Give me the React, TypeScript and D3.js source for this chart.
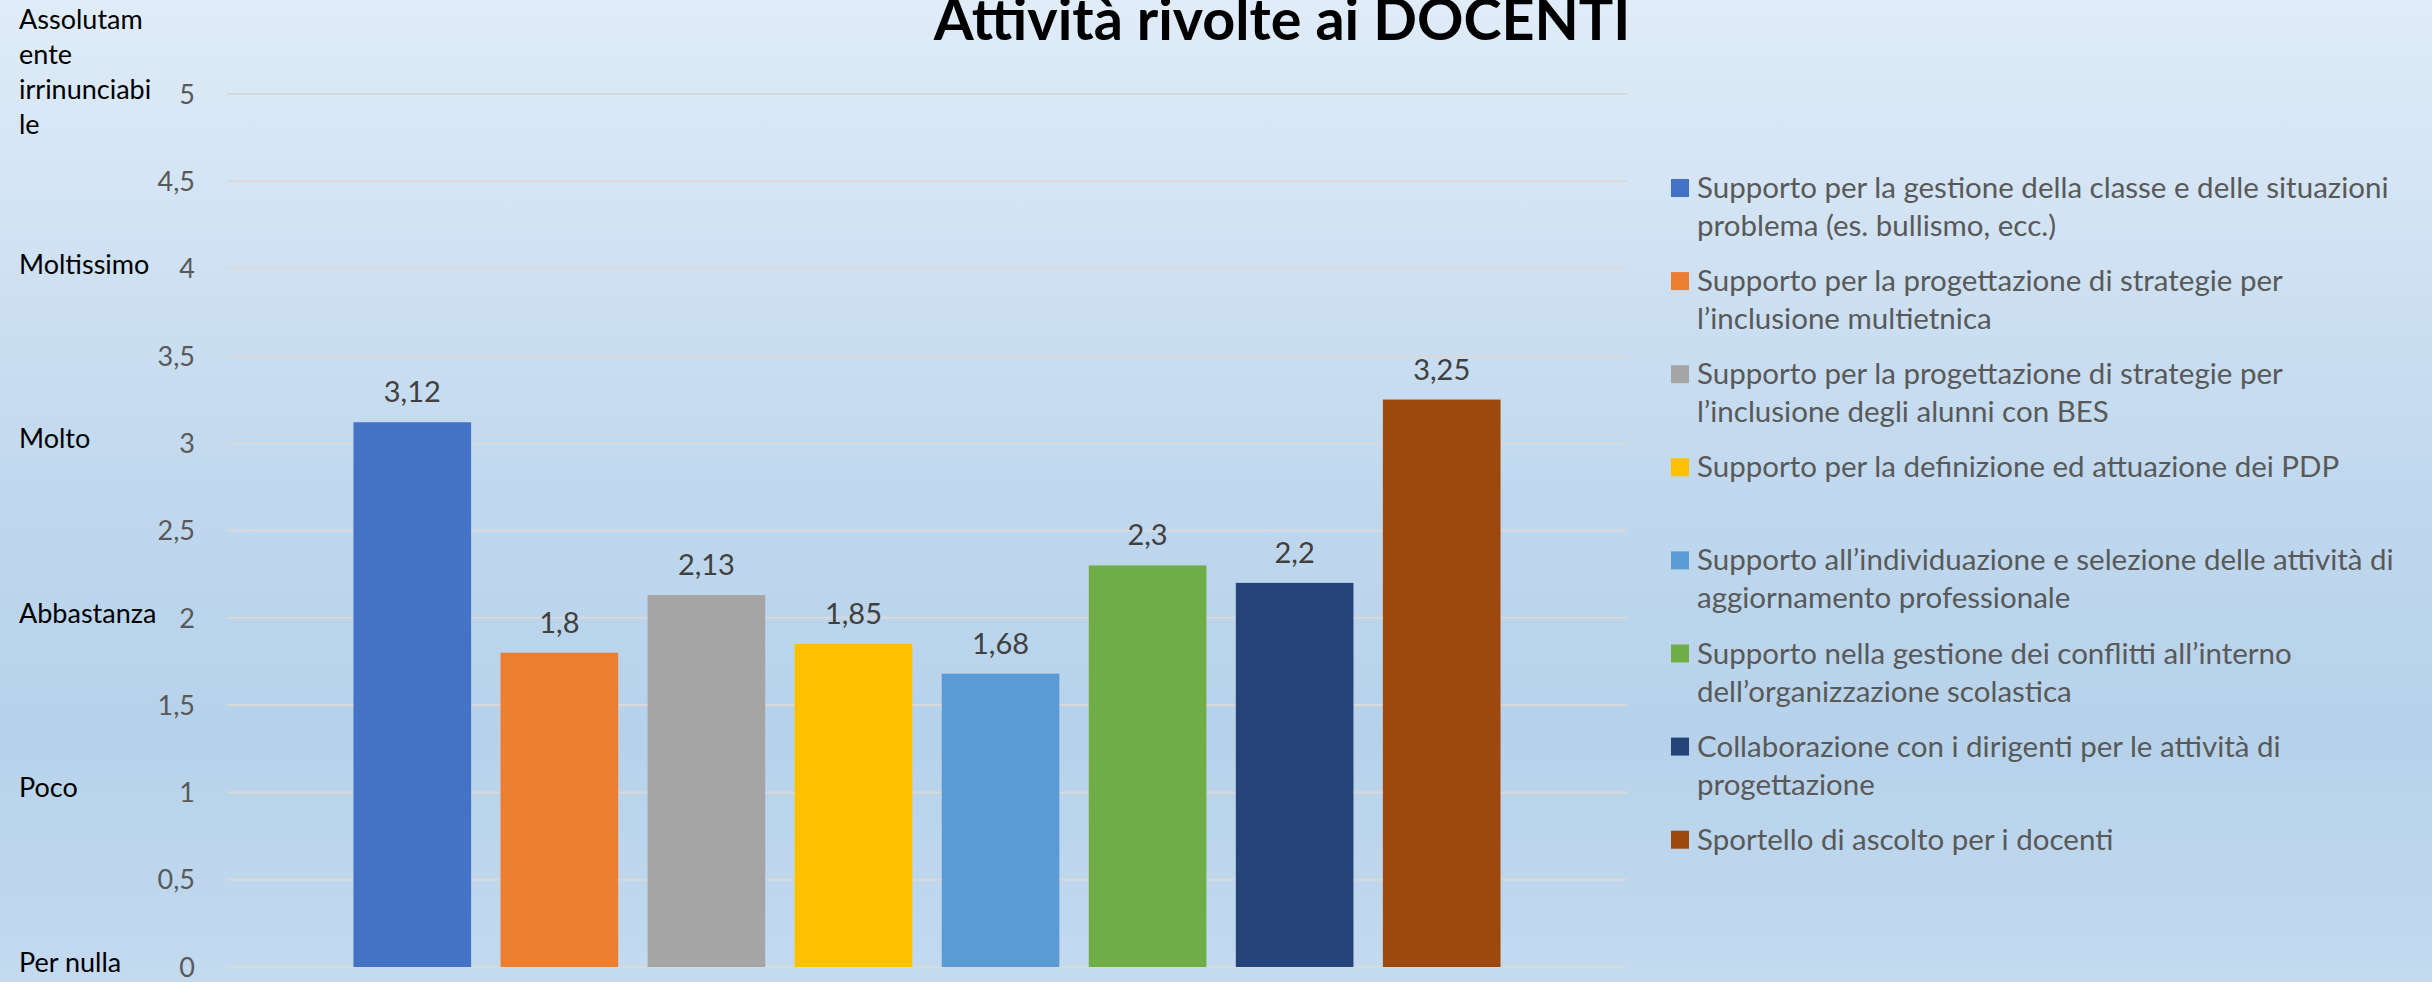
import React from "react";
import * as d3 from "d3";

const W = 2432;
const H = 982;

const seriesNames = [
  "Supporto per la gestione della classe e delle situazioni problema (es. bullismo, ecc.)",
  "Supporto per la progettazione di strategie per l’inclusione multietnica",
  "Supporto per la progettazione di strategie per l’inclusione degli alunni con BES",
  "Supporto per la definizione ed attuazione dei PDP",
  "Supporto all’individuazione e selezione delle attività di aggiornamento professionale",
  "Supporto nella gestione dei conflitti all’interno dell’organizzazione scolastica",
  "Collaborazione con i dirigenti per le attività di progettazione",
  "Sportello di ascolto per i docenti",
];

const legendLines: string[][] = [
  ["Supporto per la gestione della classe e delle situazioni", "problema (es. bullismo, ecc.)"],
  ["Supporto per la progettazione di strategie per", "l’inclusione multietnica"],
  ["Supporto per la progettazione di strategie per", "l’inclusione degli alunni con BES"],
  ["Supporto per la definizione ed attuazione dei PDP"],
  ["Supporto all’individuazione e selezione delle attività di", "aggiornamento professionale"],
  ["Supporto nella gestione dei conflitti all’interno", "dell’organizzazione scolastica"],
  ["Collaborazione con i dirigenti per le attività di", "progettazione"],
  ["Sportello di ascolto per i docenti"],
];

const values = [3.12, 1.8, 2.13, 1.85, 1.68, 2.3, 2.2, 3.25];

const colors = ["#4472C4", "#ED7D31", "#A5A5A5", "#FFC000", "#5B9BD5", "#70AD47", "#264478", "#9E480E"];

const yTicks = [0, 0.5, 1, 1.5, 2, 2.5, 3, 3.5, 4, 4.5, 5];

const scaleLabelValues = [5, 4, 3, 2, 1, 0];
const scaleLabelLines: string[][] = [
  ["Assolutam", "ente", "irrinunciabi", "le"],
  ["Moltissimo"],
  ["Molto"],
  ["Abbastanza"],
  ["Poco"],
  ["Per nulla"],
];

const title = "Attività rivolte ai DOCENTI";

const fmt = (v: number) => String(v).replace(".", ",");

export default function App() {
  const plotLeft = 227;
  const plotRight = 1627;
  const y = d3.scaleLinear().domain([0, 5]).range([967, 94]);
  const x = d3
    .scaleBand<number>()
    .domain(values.map((_, i) => i))
    .range([plotLeft, plotRight])
    .paddingInner(0.2)
    .paddingOuter(0.86);

  const font = "Lato, Carlito, Calibri, 'Open Sans', sans-serif";
  const legendTop = 188;
  const legendStep = 93.1;

  return (
    <svg
      width={W}
      height={H}
      viewBox={`0 0 ${W} ${H}`}
      style={{ position: "fixed", left: 0, top: 0, display: "block" }}
      fontFamily={font}
    >
      <defs>
        <linearGradient id="bg" x1="0" y1="0" x2="0" y2="1">
          <stop offset="0" stopColor="#e0ecf8" />
          <stop offset="0.5" stopColor="#c0d8ee" />
          <stop offset="0.75" stopColor="#b6d2ea" />
          <stop offset="1" stopColor="#c3daef" />
        </linearGradient>
      </defs>
      <rect x={0} y={0} width={W} height={H} fill="url(#bg)" />

      {/* title */}
      <text x={1282} y={40} textAnchor="middle" fontSize={57.5} fontWeight="bold" fill="#000">
        {title}
      </text>

      {/* gridlines */}
      {yTicks.map((t) => (
        <line key={`g${t}`} x1={plotLeft} x2={plotRight} y1={y(t)} y2={y(t)} stroke="#d9d9d9" strokeWidth={2} />
      ))}

      {/* y tick labels */}
      {yTicks.map((t) => (
        <text key={`t${t}`} x={195} y={y(t)} dy="0.36em" textAnchor="end" fontSize={27} fill="#595959">
          {fmt(t)}
        </text>
      ))}

      {/* qualitative scale labels */}
      {scaleLabelValues.map((v, i) => {
        const lines = scaleLabelLines[i];
        const anchorLine = lines.length > 1 ? 2 : 0;
        return (
          <text key={`s${i}`} x={19} fontSize={27} fill="#000">
            {lines.map((l, j) => (
              <tspan key={j} x={19} y={y(v) + 5 + (j - anchorLine) * 35}>
                {l}
              </tspan>
            ))}
          </text>
        );
      })}

      {/* bars */}
      {values.map((v, i) => (
        <rect
          key={`b${i}`}
          x={x(i)}
          y={y(v)}
          width={x.bandwidth()}
          height={y(0) - y(v)}
          fill={colors[i]}
        >
          <title>{seriesNames[i]}</title>
        </rect>
      ))}

      {/* data labels */}
      {values.map((v, i) => (
        <text
          key={`l${i}`}
          x={(x(i) as number) + x.bandwidth() / 2}
          y={y(v) - 20}
          textAnchor="middle"
          fontSize={29}
          fill="#404040"
        >
          {fmt(v)}
        </text>
      ))}

      {/* legend */}
      {legendLines.map((lines, i) => {
        const cy = legendTop + i * legendStep;
        return (
          <g key={`lg${i}`}>
            <rect x={1671} y={cy - 9} width={18} height={18} fill={colors[i]} />
            <text fontSize={29.5} fill="#595959">
              {lines.map((l, j) => (
                <tspan key={j} x={1697} y={cy + 10 + j * 38}>
                  {l}
                </tspan>
              ))}
            </text>
          </g>
        );
      })}
    </svg>
  );
}
